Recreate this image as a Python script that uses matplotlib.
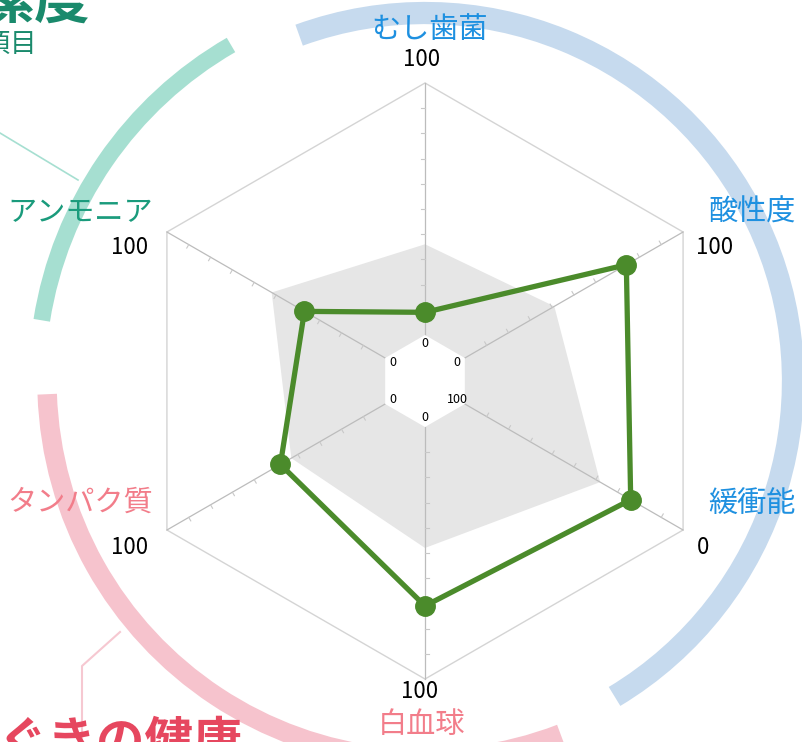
"""
Radar chart of six oral-health items (むし歯菌 ... アンモニア) with a hollow
centre: the measured score (green) against the reference profile (grey
area). Each axis runs from the inner hexagon (min) to the outer one (max);
緩衝能 is reversed (100 inside, 0 outside).
"""
import numpy as np
import matplotlib
matplotlib.use('Agg')
import matplotlib.pyplot as plt
from matplotlib.patches import Arc, Polygon

plt.rcParams['font.family'] = ['Noto Sans CJK JP', 'DejaVu Sans']

CATEGORIES = ['むし歯菌', '酸性度', '緩衝能', '白血球', 'タンパク質', 'アンモニア']
SCORES = [9, 74, 24, 71, 48, 37]
REFERENCE = [36, 41, 38, 48, 43, 52]
AXIS_MIN = [0, 0, 100, 0, 0, 0]
AXIS_MAX = [100, 100, 0, 100, 100, 100]

BLUE = '#1e90e0'
TEAL = '#1a9b7c'
PINK = '#f27d8a'
LABEL_COLORS = [BLUE, BLUE, BLUE, PINK, PINK, TEAL]
GREEN = '#4b8b2b'

W, H = 803, 742
CX, CY = 425, 381          # chart centre in page pixels (y down)
R_IN, R_OUT = 46, 298      # hollow centre and outer hexagon radius
ANGLES = np.deg2rad([90, 30, -30, -90, -150, 150])


def px(x, y):
    """page pixel (y down) -> data coords (origin at the chart centre)"""
    return x - CX, CY - y


def radius(i, v):
    frac = (v - AXIS_MIN[i]) / (AXIS_MAX[i] - AXIS_MIN[i])
    return R_IN + frac * (R_OUT - R_IN)


def polar_xy(i, r):
    return r * np.cos(ANGLES[i]), r * np.sin(ANGLES[i])


fig = plt.figure(figsize=(W / 100, H / 100), dpi=100)
ax = fig.add_axes([0, 0, 1, 1])
ax.set_xlim(-CX, W - CX)
ax.set_ylim(-(H - CY), CY)
ax.axis('off')

# decorative rings round the chart
ax.add_patch(Arc((0, 0), 2 * 368, 2 * 368, theta1=-59, theta2=110,
                 lw=16, color='#c6daee', zorder=0))
ax.add_patch(Arc((0, 0), 2 * 388, 2 * 388, theta1=120, theta2=171,
                 lw=12, color='#a6dfd1', zorder=0))
ax.add_patch(Arc((0, 0), 2 * 378, 2 * 378, theta1=182, theta2=291,
                 lw=14, color='#f6c3cd', zorder=0))
ax.plot(*zip(px(0, 133), px(78, 180)), color='#a6dfd1', lw=1.2, zorder=0)
ax.plot(*zip(px(120, 632), px(82, 666), px(82, 745)), color='#f6c8d1',
        lw=1.5, zorder=0)

# cut-off headings from the surrounding page
fig.text(90 / W, 1 - 18 / H, '清潔度', ha='right', va='baseline',
         fontsize=40, fontweight='bold', color='#1a8a6c')
fig.text(37 / W, 1 - 45 / H, '3項目', ha='right', va='center',
         fontsize=19, color='#1a8a6c')
fig.text(242 / W, 1 - 718 / H, 'はぐきの健康', ha='right', va='top',
         fontsize=35, fontweight='bold', color='#e6475f')

# reference area
ref = [polar_xy(i, radius(i, v)) for i, v in enumerate(REFERENCE)]
ax.add_patch(Polygon(ref, closed=True, facecolor='#e6e6e6', edgecolor='none',
                     zorder=1))

# outer hexagon, axes and ticks
outer = [polar_xy(i, R_OUT) for i in range(6)]
ax.add_patch(Polygon(outer, closed=True, fill=False, edgecolor='#d4d4d4',
                     lw=1.0, zorder=2))
for i in range(6):
    x0, y0 = polar_xy(i, R_IN)
    x1, y1 = polar_xy(i, R_OUT)
    ax.plot([x0, x1], [y0, y1], color='#bcbcbc', lw=0.9, zorder=2)
    nx, ny = -np.sin(ANGLES[i]), np.cos(ANGLES[i])
    for t in range(10, 100, 10):
        r = R_IN + t / 100 * (R_OUT - R_IN)
        tx, ty = polar_xy(i, r)
        ax.plot([tx, tx + 4 * nx], [ty, ty + 4 * ny], color='#c8c8c8',
                lw=0.8, zorder=2)

# hollow centre
inner = [polar_xy(i, R_IN) for i in range(6)]
ax.add_patch(Polygon(inner, closed=True, facecolor='white', edgecolor='none',
                     zorder=3))

# score line
pts = [polar_xy(i, radius(i, v)) for i, v in enumerate(SCORES)]
xs = [p[0] for p in pts] + [pts[0][0]]
ys = [p[1] for p in pts] + [pts[0][1]]
ax.plot(xs, ys, color=GREEN, lw=3.8, solid_joinstyle='round', zorder=4)
ax.plot(xs[:-1], ys[:-1], 'o', color=GREEN, ms=14, zorder=5)

# inner (min) labels
for i in range(6):
    x, y = polar_xy(i, 37)
    ax.text(x, y, f'{AXIS_MIN[i]}', ha='center', va='center', fontsize=9,
            color='black', zorder=6)

# outer labels: category name and max value (page pixel positions)
NAME_POS = [(430, 30), (752, 213), (752, 505), (422, 725), (80, 503), (80, 213)]
MAX_POS = [(422, 60), (715, 248), (703, 547), (420, 692), (130, 547), (130, 248)]
for i, name in enumerate(CATEGORIES):
    ax.text(*px(*NAME_POS[i]), name, ha='center', va='center', fontsize=21,
            color=LABEL_COLORS[i], zorder=6)
    ax.text(*px(*MAX_POS[i]), f'{AXIS_MAX[i]}', ha='center', va='center',
            fontsize=16, color='black', zorder=6)

fig.savefig('out.png', dpi=100)
